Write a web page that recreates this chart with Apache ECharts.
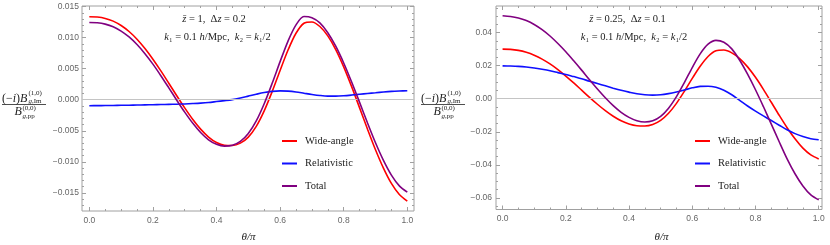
<!DOCTYPE html>
<html><head><meta charset="utf-8">
<script src="https://cdn.jsdelivr.net/npm/echarts@6/dist/echarts.min.js"></script>
<style>html,body{margin:0;padding:0;background:#fff}#c{width:830px;height:245px}</style>
</head><body><div id="c"></div>
<script>
// ---- data: theta/pi sample positions (both panels) ----
const theta = [0,0.025,0.05,0.075,0.1,0.125,0.15,0.175,0.2,0.225,0.25,0.275,0.3,0.325,0.35,0.375,0.4,0.425,0.45,0.475,0.5,0.525,0.55,0.575,0.6,0.625,0.65,0.675,0.7,0.725,0.75,0.775,0.8,0.825,0.85,0.875,0.9,0.925,0.95,0.975,1.0];
// ---- left panel (z=1, dz=0.2) ----
const wideL  = [0.01337,0.01332,0.01310,0.01266,0.01196,0.01099,0.00975,0.00825,0.00653,0.00465,0.00266,0.00064,-0.00132,-0.00315,-0.00474,-0.00601,-0.00689,-0.00733,-0.00737,-0.00700,-0.00602,-0.00429,-0.00179,0.00130,0.00472,0.00801,0.01071,0.01232,0.01253,0.01180,0.01028,0.00808,0.00530,0.00211,-0.00131,-0.00476,-0.00806,-0.01102,-0.01349,-0.01528,-0.01634];
const relL   = [-0.00096,-0.00095,-0.00094,-0.00092,-0.00090,-0.00088,-0.00086,-0.00083,-0.00080,-0.00078,-0.00075,-0.00072,-0.00068,-0.00062,-0.00055,-0.00045,-0.00030,-0.00015,0.00002,0.00028,0.00058,0.00088,0.00115,0.00134,0.00142,0.00138,0.00125,0.00105,0.00085,0.00068,0.00058,0.00058,0.00064,0.00075,0.00088,0.00100,0.00112,0.00124,0.00134,0.00140,0.00144];
const totalL = [0.01245,0.01240,0.01218,0.01175,0.01106,0.01011,0.00889,0.00742,0.00573,0.00387,0.00191,-0.00008,-0.00200,-0.00377,-0.00529,-0.00646,-0.00719,-0.00748,-0.00735,-0.00672,-0.00544,-0.00341,-0.00064,0.00264,0.00614,0.00945,0.01205,0.01340,0.01322,0.01238,0.01080,0.00862,0.00592,0.00285,-0.00043,-0.00376,-0.00694,-0.00978,-0.01215,-0.01388,-0.01490];
// ---- right panel (z=0.25, dz=0.1) ----
const wideR  = [0.03000,0.02985,0.02924,0.02809,0.02634,0.02398,0.02104,0.01761,0.01373,0.00956,0.00521,0.00085,-0.00333,-0.00722,-0.01060,-0.01334,-0.01527,-0.01632,-0.01646,-0.01557,-0.01310,-0.00881,-0.00280,0.00447,0.01228,0.01964,0.02556,0.02900,0.02945,0.02777,0.02431,0.01928,0.01295,0.00568,-0.00212,-0.01000,-0.01753,-0.02427,-0.02990,-0.03400,-0.03640];
const relR   = [0.0199,0.0198,0.0196,0.0192,0.0186,0.0178,0.0169,0.0158,0.0147,0.0134,0.0121,0.0106,0.0092,0.0078,0.0064,0.0051,0.0040,0.0030,0.0024,0.0022,0.0024,0.0031,0.0041,0.0053,0.0066,0.0075,0.0076,0.0069,0.0051,0.0024,-0.0010,-0.0044,-0.0075,-0.0104,-0.0132,-0.0160,-0.0188,-0.0211,-0.0229,-0.0242,-0.0248];
const totalR = [0.0502,0.04975,0.04884,0.04729,0.04494,0.04178,0.03794,0.03341,0.02843,0.02296,0.01731,0.01145,0.00587,0.00058,-0.00420,-0.00824,-0.01127,-0.01332,-0.01406,-0.01337,-0.01070,-0.00571,0.00130,0.00977,0.01888,0.02714,0.03300,0.03530,0.03420,0.03017,0.02331,0.01488,0.00545,-0.00472,-0.01532,-0.02600,-0.03633,-0.04537,-0.05280,-0.05820,-0.06120];
// ---- ticks ----
const xMajor = [0,0.2,0.4,0.6,0.8,1.0];
const xLabels = ['0.0','0.2','0.4','0.6','0.8','1.0'];
const xMinor = [0.05,0.1,0.15,0.25,0.3,0.35,0.45,0.5,0.55,0.65,0.7,0.75,0.85,0.9,0.95];
const yMajorL = [-0.015,-0.01,-0.005,0,0.005,0.01,0.015];
const yLabelsL = ['\u22120.015','\u22120.010','\u22120.005','0.000','0.005','0.010','0.015'];
const yMinorL = [-0.017,-0.016,-0.014,-0.013,-0.012,-0.011,-0.009,-0.008,-0.007,-0.006,-0.004,-0.003,-0.002,-0.001,0.001,0.002,0.003,0.004,0.006,0.007,0.008,0.009,0.011,0.012,0.013,0.014];
const yMajorR = [-0.06,-0.04,-0.02,0,0.02,0.04];
const yLabelsR = ['\u22120.06','\u22120.04','\u22120.02','0.00','0.02','0.04'];
const yMinorR = [-0.065,-0.055,-0.05,-0.045,-0.035,-0.03,-0.025,-0.015,-0.01,-0.005,0.005,0.01,0.015,0.025,0.03,0.035,0.045,0.05,0.055];
const seriesNames = ['Wide-angle','Relativistic','Total'];
const seriesColors = ['#ff0000','#0f0fff','#800080'];

const FRAME = '#a0a0a0';
const SERIF = 'Liberation Serif';
function axis(gi, min, max, pos, ticks, len, labels, major, margin){
  return {
    type:'value', gridIndex:gi, min:min, max:max, position:pos,
    axisLine:{show:false, onZero:false},
    axisTick:{show:true, inside:true, length:len, customValues:ticks, lineStyle:{color:FRAME,width:1}},
    axisLabel: labels ? {show:true, customValues:major, margin:margin, color:'#666', fontSize:8.5, fontFamily:'Liberation Sans',
      formatter:function(v){const i=major.findIndex(m=>Math.abs(m-v)<1e-9); return i>=0?labels[i]:'';}} : {show:false},
    splitLine:{show:false}, silent:true
  };
}
const xL=[-0.023,1.0211], yL=[-0.01793,0.0151];
const xR=[-0.0208,1.0104], yR=[-0.067,0.0561];
const xAxis=[
  axis(0,xL[0],xL[1],'bottom',xMajor,4,xLabels,xMajor,5),
  axis(0,xL[0],xL[1],'bottom',xMinor,2),
  axis(0,xL[0],xL[1],'top',xMajor,4),
  axis(0,xL[0],xL[1],'top',xMinor,2),
  axis(1,xR[0],xR[1],'bottom',xMajor,4,xLabels,xMajor,5),
  axis(1,xR[0],xR[1],'bottom',xMinor,2),
  axis(1,xR[0],xR[1],'top',xMajor,4),
  axis(1,xR[0],xR[1],'top',xMinor,2)
];
const yAxis=[
  axis(0,yL[0],yL[1],'left',yMajorL,4,yLabelsL,yMajorL,3),
  axis(0,yL[0],yL[1],'left',yMinorL,2),
  axis(0,yL[0],yL[1],'right',yMajorL,4),
  axis(0,yL[0],yL[1],'right',yMinorL,2),
  axis(1,yR[0],yR[1],'left',yMajorR,4,yLabelsR,yMajorR,4),
  axis(1,yR[0],yR[1],'left',yMinorR,2),
  axis(1,yR[0],yR[1],'right',yMajorR,4),
  axis(1,yR[0],yR[1],'right',yMinorR,2)
];
function pairs(xs, ys){ return xs.map((x,i)=>[x,ys[i]]); }
function mkSeries(axIdx, xs, sets){
  return sets.map((ys,k)=>{
    const s={type:'line', name:seriesNames[k], xAxisIndex:axIdx, yAxisIndex:axIdx, data:pairs(xs,ys),
      smooth:0.3, showSymbol:false, symbol:'none', silent:true, animation:false,
      lineStyle:{color:seriesColors[k], width:1.6}, itemStyle:{color:seriesColors[k]}, z:3+k};
    if(k===0){ s.markLine={silent:true, symbol:'none', animation:false, label:{show:false},
      lineStyle:{color:'#c4c4c4', type:'solid', width:1}, data:[{yAxis:0}]}; }
    return s;
  });
}
const series=[].concat(mkSeries(0,theta,[wideL,relL,totalL]), mkSeries(4,theta,[wideR,relR,totalR]));

function legend(left){
  return {show:true, orient:'vertical', left:left, top:130, icon:'rect', itemWidth:15, itemHeight:2, itemGap:10.5,
    selectedMode:false, data:seriesNames,
    textStyle:{fontFamily:SERIF, fontSize:10.5, color:'#222', lineHeight:12, padding:[0,0,0,3]}};
}
const R = {
  n:{fontFamily:SERIF, fontSize:10.5, fill:'#222'},
  i:{fontFamily:SERIF, fontSize:10.5, fontStyle:'italic', fill:'#222'}
};
function ann(x,y,text){
  return {type:'text', x:x, y:y, silent:true, style:{text:text, fontFamily:SERIF, fontSize:10.5, fill:'#222', align:'center', verticalAlign:'middle', rich:R}};
}
function t(x,y,text,size,italic,align){
  return {type:'text', x:x, y:y, silent:true, style:{text:text, fontFamily:SERIF, fontSize:size, fontStyle:italic?'italic':'normal', fill:'#222', align:align||'left', verticalAlign:'middle'}};
}
function frac(x0,yc){
  const RI={fontFamily:SERIF, fontSize:12, fontStyle:'italic', fill:'#222'};
  const RN={fontFamily:SERIF, fontSize:12, fill:'#222'};
  const SI={fontFamily:SERIF,fontSize:7,fontStyle:'italic',fill:'#222'};
  const SN={fontFamily:SERIF,fontSize:7,fill:'#222'};
  return [
    {type:'text', x:x0, y:yc-5.5, silent:true, style:{text:'{n|(\u2212}{i|i}{n|)}{i|B}', align:'left', verticalAlign:'middle', rich:{i:RI,n:RN}}},
    t(x0+26.5,yc-10.5,'(1,0)',7,false),
    {type:'text', x:x0+26.5, y:yc-2.5, silent:true, style:{text:'{i|g}{n|,Im}', align:'left', verticalAlign:'middle', rich:{i:SI,n:SN}}},
    {type:'line', silent:true, shape:{x1:x0, y1:yc+0.5, x2:x0+44, y2:yc+0.5}, style:{stroke:'#222', lineWidth:0.8}},
    t(x0+12.5,yc+8,'B',12,true),
    t(x0+20.5,yc+4,'(0,0)',7,false),
    {type:'text', x:x0+20.5, y:yc+12, silent:true, style:{text:'{i|g}{n|,pp}', align:'left', verticalAlign:'middle', rich:{i:SI,n:SN}}}
  ];
}
const graphic=[].concat(
  [ann(214,19,'{i|z\u0304}{n| = 1,  \u0394}{i|z}{n| = 0.2}'),
   ann(217.5,37,'{i|k}{n|\u2081 = 0.1 }{i|h}{n|/Mpc,  }{i|k}{n|\u2082 = }{i|k}{n|\u2081/2}'),
   ann(627.5,19,'{i|z\u0304}{n| = 0.25,  \u0394}{i|z}{n| = 0.1}'),
   ann(634,37,'{i|k}{n|\u2081 = 0.1 }{i|h}{n|/Mpc,  }{i|k}{n|\u2082 = }{i|k}{n|\u2081/2}'),
   t(248.5,237.5,'\u03b8/\u03c0',11,true,'center'),
   t(661.5,237.5,'\u03b8/\u03c0',11,true,'center')],
  frac(2,104), frac(421,104)
);

const chart=echarts.init(document.getElementById('c'),null,{renderer:'canvas'});
chart.setOption({
  animation:false, backgroundColor:'#fff',
  grid:[{left:82, top:6, width:332, height:205, show:true, borderColor:FRAME, borderWidth:1, backgroundColor:'transparent'},
        {left:496, top:6, width:326, height:203.5, show:true, borderColor:FRAME, borderWidth:1, backgroundColor:'transparent'}],
  xAxis:xAxis, yAxis:yAxis, series:series,
  legend:[legend(277), legend(690)],
  graphic:graphic
});
</script></body></html>
